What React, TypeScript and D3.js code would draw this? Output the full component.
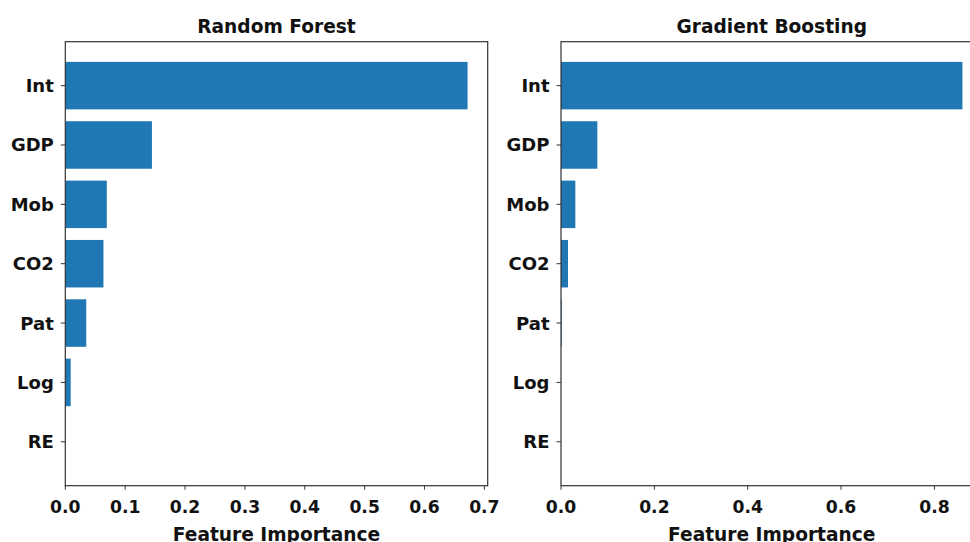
import React from 'react';
import * as d3 from 'd3';

// feature names, top to bottom
const features = ['Int', 'GDP', 'Mob', 'CO2', 'Pat', 'Log', 'RE'];
// importances
const rfValues = [0.672, 0.1447, 0.0693, 0.0637, 0.035, 0.009, 0.0];
const gbValues = [0.860, 0.0779, 0.0307, 0.015, 0.0015, 0.0, 0.0];
const rfTicks = [0, 0.1, 0.2, 0.3, 0.4, 0.5, 0.6, 0.7];
const gbTicks = [0, 0.2, 0.4, 0.6, 0.8];

const width = 970;
const height = 542;
const top = 41.7;
const bottom = 485.7;
const font = '"DejaVu Sans", sans-serif';
const barColor = '#1f77b4';

function Panel({ title, values, ticks, left, right }) {
  // matplotlib style margins: 5% on x, bars of 0.8 with 0.05 padding on y
  const maxVal = d3.max(values) * 1.05;
  const x = d3.scaleLinear().domain([0, maxVal]).range([left, right]);
  const n = features.length;
  const pad = (n - 1 + 0.8) * 0.05;
  const y = d3.scaleLinear()
    .domain([-0.4 - pad, n - 1 + 0.4 + pad])
    .range([bottom, top]);
  const barH = y(0) - y(0.8);

  return (
    <g>
      {/* bars */}
      {values.map((v, i) => {
        const pos = n - 1 - i;
        return (
          <rect key={features[i]}
            x={x(0)} y={y(pos + 0.4)}
            width={Math.max(0, x(v) - x(0))} height={barH}
            fill={barColor} />
        );
      })}
      {/* spines */}
      <rect x={left} y={top} width={right - left} height={bottom - top}
        fill="none" stroke="#333" strokeWidth={1.2} />
      {/* y ticks */}
      {features.map((f, i) => {
        const pos = n - 1 - i;
        return (
          <g key={f} transform={`translate(${left},${y(pos)})`}>
            <line x1={-4.5} x2={0} stroke="#333" strokeWidth={1} />
            <text x={-11.5} dy="0.36em" textAnchor="end" fontFamily={font}
              fontWeight="bold" fontSize={18} fill="#111">{f}</text>
          </g>
        );
      })}
      {/* x ticks */}
      {ticks.map(t => (
        <g key={t} transform={`translate(${x(t)},${bottom})`}>
          <line y1={0} y2={4} stroke="#333" strokeWidth={1} />
          <text y={27.5} textAnchor="middle" fontFamily={font}
            fontWeight="bold" fontSize={17.2} fill="#111">{d3.format('.1f')(t)}</text>
        </g>
      ))}
      <text x={(left + right) / 2} y={33} textAnchor="middle" fontFamily={font}
        fontWeight="bold" fontSize={18.6} fill="#111">{title}</text>
      <text x={(left + right) / 2} y={540.5} textAnchor="middle" fontFamily={font}
        fontWeight="bold" fontSize={18.6} fill="#111">Feature Importance</text>
    </g>
  );
}

export default function App() {
  return (
    <svg width={width} height={height}
      style={{ position: 'absolute', left: 0, top: 0, background: '#fff' }}>
      <rect width={width} height={height} fill="#fff" />
      <Panel title="Random Forest" values={rfValues} ticks={rfTicks} left={65.3} right={487.7} />
      <Panel title="Gradient Boosting" values={gbValues} ticks={gbTicks} left={561} right={982.5} />
    </svg>
  );
}
